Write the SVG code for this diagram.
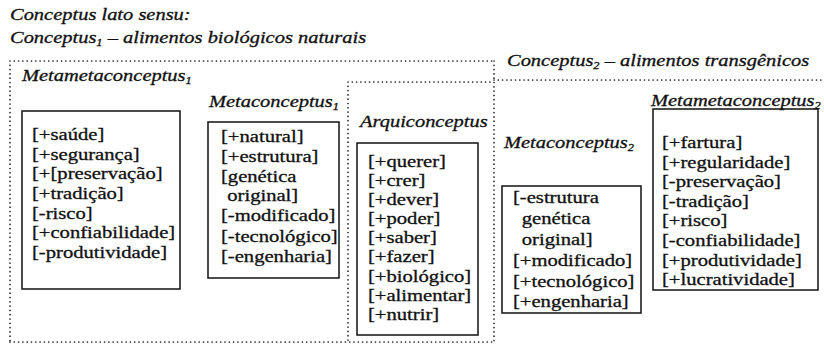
<svg xmlns="http://www.w3.org/2000/svg" width="824" height="347" viewBox="0 0 824 347" font-family="'Liberation Serif', 'DejaVu Serif', serif">
<style>
text{font-family:'Liberation Serif','DejaVu Serif',serif;font-size:16.5px;fill:#111;stroke:#111;stroke-width:0.3}
.it{font-style:italic}
.sub{font-size:10px}
.box{fill:none;stroke:#111;stroke-width:1.5}
.dot{fill:none;stroke:#222;stroke-width:1.7;stroke-dasharray:0 4.3;stroke-linecap:round}
</style>
<rect width="824" height="347" fill="#fff"/>
<g id="header">
<text class="it" transform="translate(10,20) scale(1.24,1)">Conceptus lato sensu:</text>
<text class="it" transform="translate(10,43) scale(1.24,1)">Conceptus<tspan class="sub" dy="3">1</tspan><tspan dy="-3"> – alimentos biológicos naturais</tspan></text>
<text class="it" transform="translate(507,66) scale(1.24,1)">Conceptus<tspan class="sub" dy="3">2</tspan><tspan dy="-3"> – alimentos transgênicos</tspan></text>
</g>
<g id="connectors">
<path class="dot" d="M10,61 H494 M10,61 V342 M10,342 H494 M494,61 V342 M348,82 H494 M348,82 V342 M494,80 H824"/>
</g>
<g id="metameta1">
<text class="it" transform="translate(22,81) scale(1.24,1)">Metametaconceptus<tspan class="sub" dy="3">1</tspan></text>
<rect class="box" x="22" y="111" width="158" height="178"/>
<g transform="translate(32,0) scale(1.25,1)">
<text y="140">[+saúde]</text>
<text y="160">[+segurança]</text>
<text y="179">[+[preservação]</text>
<text y="199">[+tradição]</text>
<text y="219">[-risco]</text>
<text y="238">[+confiabilidade]</text>
<text y="258">[-produtividade]</text>
</g>
</g>
<g id="meta1">
<text class="it" transform="translate(209,107) scale(1.24,1)">Metaconceptus<tspan class="sub" dy="3">1</tspan></text>
<rect class="box" x="208" y="122" width="131" height="156"/>
<g transform="translate(221,0) scale(1.25,1)">
<text y="142">[+natural]</text>
<text y="162">[+estrutura]</text>
<text y="182">[genética</text>
<text x="5" y="201">original]</text>
<text y="221">[-modificado]</text>
<text y="242">[-tecnológico]</text>
<text y="262">[-engenharia]</text>
</g>
</g>
<g id="arqui">
<text class="it" transform="translate(360,127) scale(1.24,1)">Arquiconceptus</text>
<rect class="box" x="357" y="143" width="121" height="192"/>
<g transform="translate(368,0) scale(1.25,1)">
<text y="167">[+querer]</text>
<text y="186">[+crer]</text>
<text y="205">[+dever]</text>
<text y="224">[+poder]</text>
<text y="243">[+saber]</text>
<text y="262">[+fazer]</text>
<text y="282">[+biológico]</text>
<text y="301">[+alimentar]</text>
<text y="320">[+nutrir]</text>
</g>
</g>
<g id="meta2">
<text class="it" transform="translate(504,148) scale(1.24,1)">Metaconceptus<tspan class="sub" dy="3">2</tspan></text>
<rect class="box" x="502" y="186" width="139" height="127"/>
<g transform="translate(513,0) scale(1.25,1)">
<text y="203">[-estrutura</text>
<text x="7" y="224">genética</text>
<text x="7" y="245">original]</text>
<text y="266">[+modificado]</text>
<text y="287">[+tecnológico]</text>
<text y="307">[+engenharia]</text>
</g>
</g>
<g id="metameta2">
<text class="it" transform="translate(651,106) scale(1.24,1)">Metametaconceptus<tspan class="sub" dy="3">2</tspan></text>
<rect class="box" x="653" y="109" width="165" height="181"/>
<g transform="translate(662,0) scale(1.25,1)">
<text y="148">[+fartura]</text>
<text y="167.6">[+regularidade]</text>
<text y="187.2">[-preservação]</text>
<text y="206.8">[-tradição]</text>
<text y="226.4">[+risco]</text>
<text y="246">[-confiabilidade]</text>
<text y="265.6">[+produtividade]</text>
<text y="285.2">[+lucratividade]</text>
</g>
</g>
</svg>
